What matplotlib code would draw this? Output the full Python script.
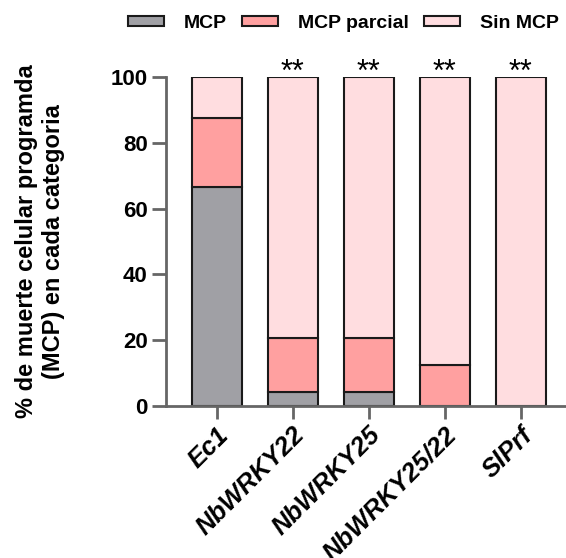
import matplotlib
matplotlib.use("Agg")
import matplotlib.pyplot as plt
from matplotlib.patches import Patch
import numpy as np

categories = ["Ec1", "NbWRKY22", "NbWRKY25", "NbWRKY25/22", "SlPrf"]
mcp = [66.7, 4.2, 4.2, 0.0, 0.0]
mcp_parcial = [20.8, 16.6, 16.6, 12.5, 0.0]
sin_mcp = [12.5, 79.2, 79.2, 87.5, 100.0]
signif = ["", "**", "**", "**", "**"]
series_names = ["MCP", "MCP parcial", "Sin MCP"]
colors = ["#a0a0a5", "#ffa0a0", "#ffdde0"]

plt.rcParams['font.family'] = ['Liberation Sans', 'DejaVu Sans']
plt.rcParams['font.weight'] = 'bold'

fig = plt.figure(figsize=(5.66, 5.58), dpi=100)
ax = fig.add_axes([0.293, 0.2724, 0.705, 0.5896])

x = np.arange(len(categories))
w = 0.66
bottom = np.zeros(len(categories))
for vals, c in zip([mcp, mcp_parcial, sin_mcp], colors):
    ax.bar(x, vals, w, bottom=bottom, color=c, edgecolor="#1a1a1a", linewidth=1.5, zorder=2)
    bottom += np.array(vals)

for xi, s, tot in zip(x, signif, bottom):
    if s:
        ax.text(xi, tot - 1.2, s, ha="center", va="baseline", fontsize=22,
                fontweight="normal", zorder=3, clip_on=False)

ax.set_xlim(-0.67, 4.58)
ax.set_ylim(0, 100)
ax.set_yticks([0, 20, 40, 60, 80, 100])
ax.set_xticks(x)
ax.set_xticklabels(categories, rotation=45, ha="right", rotation_mode="anchor",
                   fontstyle="italic", fontweight="bold", fontsize=18.5)
for lab in ax.get_yticklabels():
    lab.set_fontsize(16)
    lab.set_fontweight("bold")

for sp in ["top", "right"]:
    ax.spines[sp].set_visible(False)
for sp in ["left", "bottom"]:
    ax.spines[sp].set_color("#666666")
    ax.spines[sp].set_linewidth(2)
ax.tick_params(axis="y", color="#666666", width=2, length=10, pad=3)
ax.tick_params(axis="x", color="#666666", width=2, length=9, pad=3)

ax.set_ylabel("% de muerte celular programda\n(MCP) en cada categoria",
              fontsize=17, fontweight="bold", labelpad=33, linespacing=1.2)

handles = [Patch(facecolor=c, edgecolor="#1a1a1a", linewidth=1.5) for c in colors]
fig.legend(handles, series_names, loc="upper center", bbox_to_anchor=(0.607, 1.005),
           ncol=3, frameon=False, handlelength=1.85, handleheight=0.45,
           columnspacing=0.77, handletextpad=1.03, prop={"weight": "bold", "size": 14})

fig.savefig("out.png", dpi=100)
